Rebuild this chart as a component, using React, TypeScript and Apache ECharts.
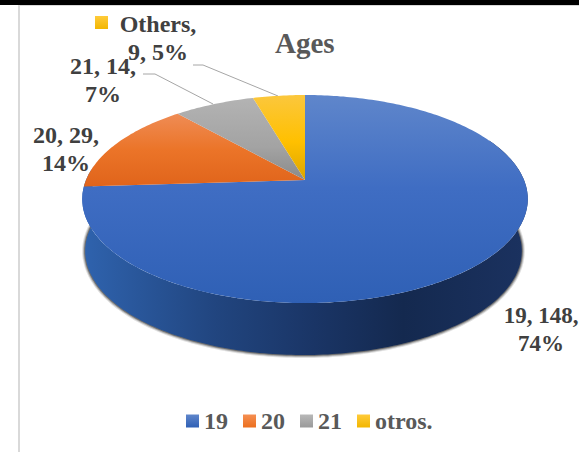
import React, { useEffect, useRef } from "react";
import * as echarts from "echarts";

const categories = ["19", "20", "21", "otros."];
const values = [148, 29, 14, 9];
const percents = [74, 14, 7, 5];
const labelLines = ["19, 148,\n74%", "20, 29,\n14%", "21, 14,\n7%", "Others,\n9, 5%"];
const title = "Ages";

const FONT = "'Liberation Serif', 'Times New Roman', serif";
const CX = 305, CY = 180, A = 219, B = 100.5, K = 0.183, DEPTH = 52, BOTTOM_SCALE = 0.98, BOTTOM_SHIFT = -1.5;
const total = values.reduce((a, b) => a + b, 0);

const grad = (stops: [number, string][], horizontal = false) => ({
  type: "linear", x: 0, y: 0, x2: horizontal ? 1 : 0, y2: horizontal ? 0 : 1,
  colorStops: stops.map(([offset, color]) => ({ offset, color })),
});

const topFills = [
  grad([[0, "#5f86cb"], [0.45, "#3f6dc3"], [1, "#2f60b5"]]),
  grad([[0, "#ef8c55"], [0.5, "#eb7428"], [1, "#e0641b"]]),
  grad([[0, "#b3b3b3"], [0.6, "#a3a3a3"], [1, "#8a8a8a"]]),
  grad([[0, "#fbc73d"], [0.55, "#ffc000"], [1, "#dca500"]]),
];
const legendFills = [
  grad([[0, "#5f86cb"], [1, "#2f60b5"]]),
  grad([[0, "#f58f52"], [1, "#ec6f1e"]]),
  grad([[0, "#b8b8b8"], [1, "#9a9a9a"]]),
  grad([[0, "#ffcb3a"], [1, "#f2b600"]]),
];
const sideFill = grad([[0, "#2f63ae"], [0.3, "#21457f"], [0.52, "#1a3566"], [0.72, "#14294f"], [1, "#1b3260"]], true);

const rim = (deg: number): [number, number] => {
  const t = (deg * Math.PI) / 180;
  const u = Math.sin(t), v = -Math.cos(t), w = 1 - K * v;
  return [CX + (A * u) / w, CY + (B * v) / w];
};
const low = ([x, y]: [number, number]): [number, number] => [CX + (x - CX) * BOTTOM_SCALE + BOTTOM_SHIFT, y + DEPTH];
const toD = (pts: [number, number][], close = true) =>
  "M" + pts.map((p) => p[0].toFixed(1) + " " + p[1].toFixed(1)).join("L") + (close ? "Z" : "");

const sweep = (from: number, to: number) => {
  const pts: [number, number][] = [];
  const n = Math.max(2, Math.ceil(to - from));
  for (let i = 0; i <= n; i++) pts.push(rim(from + ((to - from) * i) / n));
  return pts;
};
const startOf = (i: number) => (values.slice(0, i).reduce((a, b) => a + b, 0) / total) * 360;

const topItem = (i: number) => () => ({
  type: "path",
  shape: { pathData: toD([[CX, CY], ...sweep(startOf(i), startOf(i + 1))]) },
  style: { fill: topFills[i] },
});

const labelPos = [
  { x: 541, y: 301, size: 23 },
  { x: 66, y: 121, size: 24 },
  { x: 103, y: 52, size: 24 },
  { x: 158, y: 10, size: 24 },
];

const sideItem = () => {
  const top = sweep(65, startOf(1) + 10);
  const lowPts = top.map(low);
  const halo = (w: number, o: number) => ({
    type: "path",
    shape: { pathData: toD(lowPts, false) },
    style: { fill: "none", stroke: "#222222", lineWidth: w, opacity: o },
  });
  return {
    type: "group",
    children: [
      halo(6, 0.14),
      halo(4, 0.26),
      halo(2, 0.45),
      {
        type: "path",
        shape: { pathData: toD([...top, ...lowPts.slice().reverse()]) },
        style: { fill: sideFill },
      },
    ],
  };
};

export default function App() {
  const ref = useRef<HTMLDivElement>(null);
  useEffect(() => {
    document.body.style.margin = "0";
    const chart = echarts.init(ref.current!, null, { renderer: "svg" });
    chart.setOption({
      animation: false,
      backgroundColor: "#ffffff",
      title: {
        text: title, left: 270, top: 23,
        textStyle: { fontFamily: FONT, fontWeight: "bold", fontSize: 29, color: "#595959" },
      },
      legend: {
        left: 186, top: 409, padding: 0, itemWidth: 13, itemHeight: 13, itemGap: 15, icon: "rect", selectedMode: false,
        textStyle: { fontFamily: FONT, fontWeight: "bold", fontSize: 24, color: "#595959" },
        data: categories.map((name, i) => ({ name, itemStyle: { color: legendFills[i] } })),
      },
      series: [
        { type: "custom", name: "side", coordinateSystem: "none", silent: true, z: 1, data: [[values[0]]], renderItem: sideItem },
        ...categories.map((name, i) => ({
          type: "custom", name, coordinateSystem: "none", silent: true, z: 2,
          itemStyle: { color: legendFills[i] },
          data: [[values[i], percents[i]]], renderItem: topItem(i),
        })),
      ],
      graphic: [
        { type: "rect", silent: true, shape: { x: 0, y: 0, width: 579, height: 5 }, style: { fill: "#000000" } },
        { type: "rect", silent: true, shape: { x: 18, y: 5, width: 2, height: 447 }, style: { fill: "#d9d9d9" } },
        { type: "rect", silent: true, shape: { x: 18, y: 5, width: 561, height: 1 }, style: { fill: "#d9d9d9" } },
        { type: "rect", silent: true, shape: { x: 95, y: 16, width: 13, height: 13 }, style: { fill: legendFills[3] } },
        { type: "polyline", silent: true, shape: { points: [[143, 74], [155, 74], [213, 104]] }, style: { stroke: "#a6a6a6", lineWidth: 1, fill: "none" } },
        { type: "polyline", silent: true, shape: { points: [[193, 65], [203, 65], [278, 96]] }, style: { stroke: "#a6a6a6", lineWidth: 1, fill: "none" } },
        ...labelLines.map((text, i) => ({
          type: "text", silent: true, x: labelPos[i].x, y: labelPos[i].y,
          style: {
            text, textAlign: "center", fill: "#404040",
            font: `bold ${labelPos[i].size}px ${FONT}`, lineHeight: 28,
          },
        })),
      ],
    });
    return () => chart.dispose();
  }, []);
  return <div ref={ref} style={{ width: 579, height: 452 }} />;
}
